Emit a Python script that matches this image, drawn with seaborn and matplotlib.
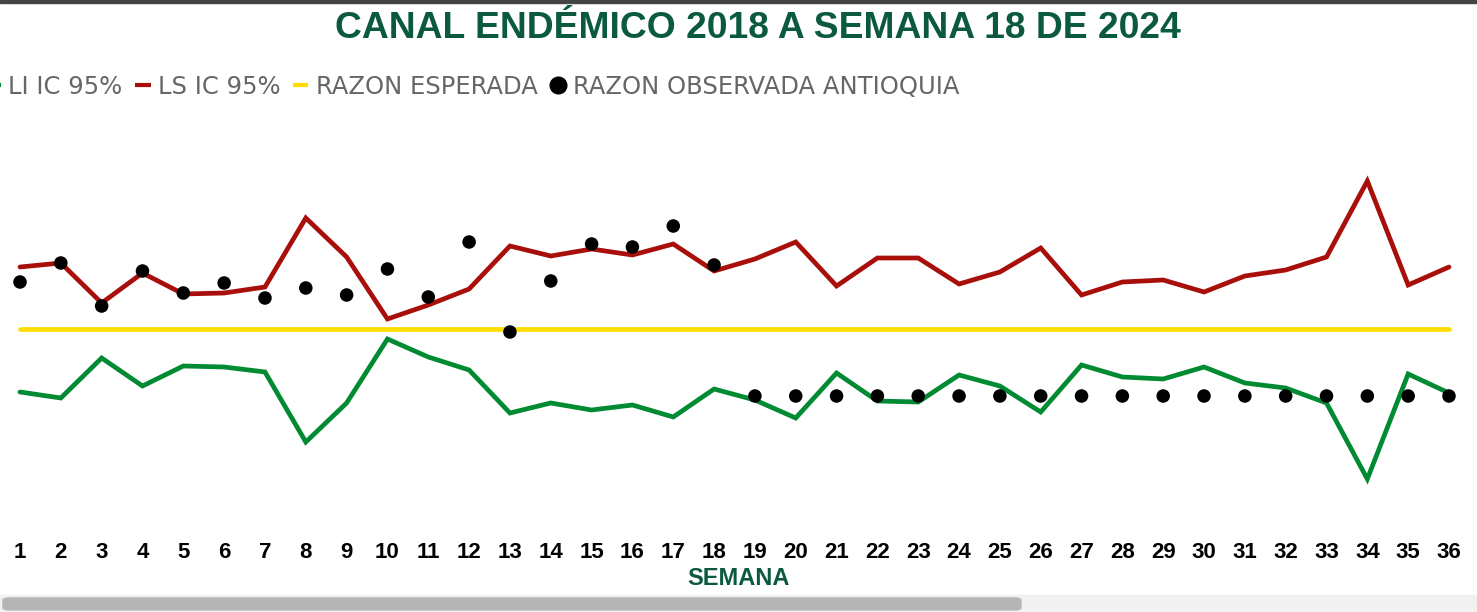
import seaborn as sns
import matplotlib.pyplot as plt
import pandas as pd
import numpy as np
from matplotlib.lines import Line2D
from matplotlib.patches import FancyBboxPatch, Rectangle

semanas = list(range(1, 37))

# limites del canal (razon)
li_ic = [0.04, -0.02, 0.38, 0.10, 0.30, 0.29, 0.24, -0.46, -0.07, 0.57, 0.39, 0.26,
         -0.17, -0.07, -0.14, -0.09, -0.21, 0.07, -0.04, -0.22, 0.23, -0.05, -0.06, 0.21,
         0.10, -0.16, 0.31, 0.19, 0.17, 0.29, 0.13, 0.08, -0.07, -0.83, 0.22, 0.03]
ls_ic = [1.29, 1.33, 0.93, 1.23, 1.02, 1.03, 1.09, 1.78, 1.39, 0.77, 0.91, 1.07,
         1.50, 1.40, 1.47, 1.41, 1.52, 1.25, 1.37, 1.54, 1.10, 1.38, 1.38, 1.12,
         1.24, 1.48, 1.01, 1.14, 1.16, 1.04, 1.20, 1.26, 1.39, 2.15, 1.11, 1.29]
razon_esperada = [0.67] * 36
razon_observada = [1.14, 1.33, 0.90, 1.25, 1.03, 1.13, 0.98, 1.08, 1.01, 1.27, 0.99, 1.54,
                   0.64, 1.15, 1.52, 1.49, 1.70, 1.31, 0, 0, 0, 0, 0, 0,
                   0, 0, 0, 0, 0, 0, 0, 0, 0, 0, 0, 0]

verde = "#008A32"
rojo = "#A80F0A"
amarillo = "#FFDD00"
titulo_color = "#0B5A3E"

df = pd.DataFrame({"semana": semanas * 3,
                   "valor": li_ic + ls_ic + razon_esperada,
                   "serie": ["LI IC 95%"] * 36 + ["LS IC 95%"] * 36 + ["RAZON ESPERADA"] * 36})
obs = pd.DataFrame({"semana": semanas, "valor": razon_observada})

sns.set_style("white")
plt.rcParams["font.family"] = ["Liberation Sans Narrow", "Liberation Sans", "DejaVu Sans"]

fig = plt.figure(figsize=(14.77, 6.12), dpi=100)
ax = fig.add_axes([0, 1 - 520 / 612, 1, 390 / 612])

sns.lineplot(data=df, x="semana", y="valor", hue="serie",
             palette=[verde, rojo, amarillo], linewidth=3.4, ax=ax,
             legend=False, solid_capstyle="round", solid_joinstyle="miter")
sns.scatterplot(data=obs, x="semana", y="valor", color="black", s=95,
                edgecolor="none", ax=ax, zorder=5, legend=False)

ax.set_xlim(0.51, 36.686)
ax.set_ylim(-1.24, 2.66)
ax.set_xticks(semanas)
ax.set_xticklabels([str(s) for s in semanas], fontsize=16, fontweight="bold", color="black")
ax.tick_params(axis="x", length=0, pad=15.5)
ax.set_yticks([])
ax.set_ylabel("")
ax.set_xlabel("SEMANA", fontsize=17, fontweight="bold", color=titulo_color, labelpad=3)
for s in ax.spines.values():
    s.set_visible(False)

fig.text(0.513, 1 - 28 / 612, "CANAL ENDÉMICO 2018 A SEMANA 18 DE 2024",
         ha="center", va="center", fontsize=26.8, fontweight="bold", color=titulo_color)

handles = [Line2D([0], [0], color=verde, lw=3, solid_capstyle="butt"),
           Line2D([0], [0], color=rojo, lw=3, solid_capstyle="butt"),
           Line2D([0], [0], color=amarillo, lw=3, solid_capstyle="butt"),
           Line2D([0], [0], color="black", marker="o", ls="none", markersize=12)]
labels = ["LI IC 95%", "LS IC 95%", "RAZON ESPERADA", "RAZON OBSERVADA ANTIOQUIA"]
leg = fig.legend(handles, labels, loc="center left", bbox_to_anchor=(-0.010, 1 - 87 / 612),
                 ncol=4, frameon=False, handlelength=0.65, handletextpad=0.3,
                 columnspacing=0.5, borderpad=0, borderaxespad=0, fontsize=17.5)
for t in leg.get_texts():
    t.set_color("#666666")
    t.set_family(["DejaVu Sans"])

# marco superior y barra de desplazamiento
fig.patches.append(Rectangle((0, 1 - 3 / 612), 1, 3 / 612, transform=fig.transFigure,
                             color="#444444", zorder=10))
fig.patches.append(Rectangle((0, 0), 1, 17 / 612, transform=fig.transFigure,
                             color="#F1F1F1", zorder=0))
fig.patches.append(FancyBboxPatch((0.002, 2 / 612), 1018 / 1477, 12 / 612,
                                  boxstyle="round,pad=0,rounding_size=0.004",
                                  transform=fig.transFigure, color="#B5B5B5", zorder=1))

fig.savefig("out.png", dpi=100)
